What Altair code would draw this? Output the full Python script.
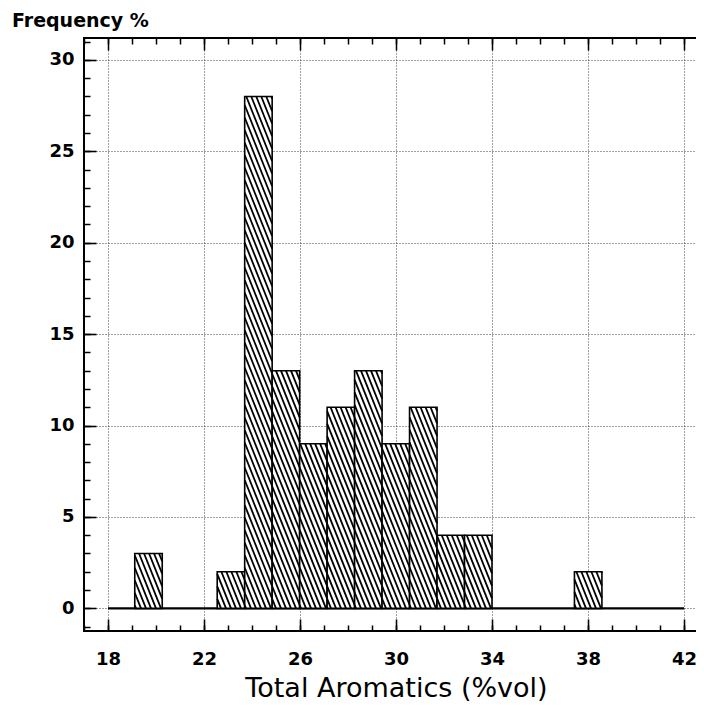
import altair as alt
import pandas as pd

# ---- data ----
bin_lo = [19.115, 22.55, 23.695, 24.84, 25.985, 27.13, 28.275, 29.42, 30.565, 31.71, 32.855, 37.435]
bin_hi = [20.26, 23.695, 24.84, 25.985, 27.13, 28.275, 29.42, 30.565, 31.71, 32.855, 34.0, 38.58]
freq = [3, 2, 28, 13, 9, 11, 13, 9, 11, 4, 4, 2]

x_ticks = [18, 22, 26, 30, 34, 38, 42]
y_ticks = [0, 5, 10, 15, 20, 25, 30]
x_minor = list(range(17, 44))
y_minor = list(range(-1, 32))

X_DOMAIN = [17, 43]
Y_DOMAIN = [-1.24, 31.2]
W, H = 624, 593

bars_df = pd.DataFrame({"x0": bin_lo, "x1": bin_hi, "h": freq})
base_df = pd.DataFrame({"a": [x_ticks[0]], "b": [x_ticks[-1]], "y": [0]})

xs = alt.Scale(domain=X_DOMAIN, nice=False, zero=False)
ys = alt.Scale(domain=Y_DOMAIN, nice=False, zero=False)

FONT = "DejaVu Sans"
MAJ, MIN = 12, 6

# hatch geometry (style constants, converted to data units via the scale factors)
KX = W / (X_DOMAIN[1] - X_DOMAIN[0])
KY = H / (Y_DOMAIN[1] - Y_DOMAIN[0])
SLOPE_PX = 2.5
GAP_PX = 5.0
m = SLOPE_PX * KX / KY
du = GAP_PX / KX

grid = alt.Chart(bars_df).mark_point(opacity=0).encode(
    x=alt.X("x0:Q", scale=xs, axis=alt.Axis(orient="bottom", values=x_ticks, grid=True,
            gridDash=[1, 2], gridColor="black", gridWidth=1, gridOpacity=0.75,
            ticks=False, labels=False, domain=False, title=None)),
    y=alt.Y("h:Q", scale=ys, axis=alt.Axis(orient="left", values=y_ticks, grid=True,
            gridDash=[1, 2], gridColor="black", gridWidth=1, gridOpacity=0.75,
            ticks=False, labels=False, domain=False, title=None)),
)

baseline = alt.Chart(base_df).mark_rule(color="black", strokeWidth=2.2).encode(
    x=alt.X("a:Q", scale=xs, axis=None), x2="b:Q",
    y=alt.Y("y:Q", scale=ys, axis=None),
)

bars = alt.Chart(bars_df).transform_calculate(base="0").mark_rect(
    fill="white", stroke="black", strokeWidth=1.6
).encode(
    x=alt.X("x0:Q", scale=xs, axis=alt.Axis(
        orient="bottom", values=x_ticks, tickSize=MAJ, offset=-MAJ, domain=False, grid=False,
        tickColor="black", tickWidth=1.6, labelPadding=19, labelFont=FONT, labelFontSize=18,
        labelFontWeight="bold", labelColor="black",
        title="Total Aromatics (%vol)", titleFont=FONT, titleFontSize=27, titleFontWeight="normal",
        titleColor="black", titleBaseline="alphabetic", titleY=77)),
    x2="x1:Q",
    y=alt.Y("h:Q", scale=ys, axis=alt.Axis(
        orient="left", values=y_ticks, tickSize=MAJ, offset=-MAJ, domain=False, grid=False,
        tickColor="black", tickWidth=1.6, labelPadding=10, labelFont=FONT, labelFontSize=18,
        labelFontWeight="bold", labelColor="black", title=None)),
    y2="base:Q",
)

hatch = alt.Chart(bars_df).transform_calculate(
    k=f"sequence(ceil(datum.x0/{du}), floor((datum.x1 + datum.h/{m})/{du}) + 1)"
).transform_flatten(["k"]).transform_calculate(
    u=f"datum.k*{du}"
).transform_calculate(
    ylo=f"max(0, {m}*(datum.u - datum.x1))",
    yhi=f"min(datum.h, {m}*(datum.u - datum.x0))",
).transform_filter("datum.yhi > datum.ylo").transform_calculate(
    xa=f"datum.u - datum.ylo/{m}",
    xb=f"datum.u - datum.yhi/{m}",
).mark_rule(color="black", strokeWidth=1.8, strokeCap="butt").encode(
    x=alt.X("xa:Q", scale=xs, axis=None), x2="xb:Q",
    y=alt.Y("ylo:Q", scale=ys, axis=None), y2="yhi:Q",
)


def tick_layer(xorient, yorient, xvals, yvals, size):
    def ax(orient, vals):
        return alt.Axis(orient=orient, values=vals, tickSize=size, offset=-size, labels=False,
                        domain=False, grid=False, title=None, tickColor="black", tickWidth=1.5)
    return alt.Chart(bars_df).mark_point(opacity=0).encode(
        x=alt.X("x0:Q", scale=xs, axis=ax(xorient, xvals)),
        y=alt.Y("h:Q", scale=ys, axis=ax(yorient, yvals)),
    )


minor_bl = tick_layer("bottom", "left", x_minor, y_minor, MIN)
major_tr = tick_layer("top", "right", x_ticks, y_ticks, MAJ)
minor_tr = tick_layer("top", "right", x_minor, y_minor, MIN)

chart = alt.layer(grid, baseline, bars, hatch, minor_bl, major_tr, minor_tr).resolve_scale(
    x="independent", y="independent"
).properties(
    width=W, height=H,
    padding={"left": 76, "top": 30, "right": -12, "bottom": 72},
    autosize=alt.AutoSizeParams(type="none"),
    background="white",
    title=alt.TitleParams("Frequency %", anchor="start", frame="group", dx=-72, offset=6,
                          fontSize=19, font=FONT, fontWeight="bold", color="black"),
).configure_view(stroke="black", strokeWidth=2)

chart.save("out.html", embed_options={"renderer": "svg", "actions": False})
